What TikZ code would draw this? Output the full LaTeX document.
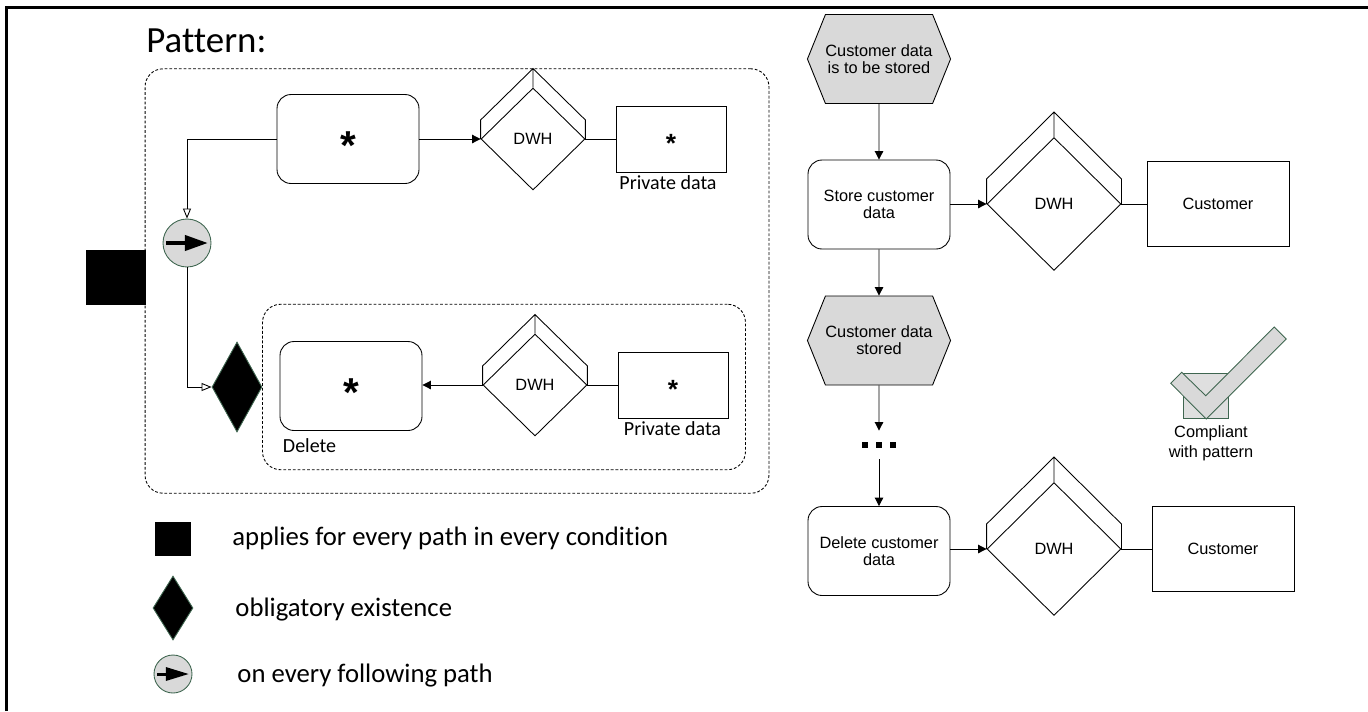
\documentclass[tikz,border=0pt]{standalone}
\usepackage{fontspec}
\setmainfont{Liberation Sans}
\newfontfamily\calibri[Ligatures=NoCommon]{Carlito}
\usetikzlibrary{positioning}
\usetikzlibrary{calc}
\usetikzlibrary{arrows.meta}
\usetikzlibrary{shapes.geometric}
\usetikzlibrary{shapes.symbols}

\definecolor{evfill}{HTML}{D9D9D9}
\definecolor{evline}{HTML}{3F6650}

\newcommand{\wild}[1]{\smash{\fontsize{#1}{#1}\selectfont\bfseries\raisebox{-.5em}{*}}}
\newcommand{\dwhback}[2]{\draw (#1.west) -- ++(0,-#2) -- ($(#1.north)+(0,-#2)$) -- ($(#1.east)+(0,-#2)$) -- (#1.east) (#1.north) -- ++(0,-#2);}
\newcommand{\evarrow}[4]{\draw[line width=#4,-{Triangle[length=#2,width=#3]}] ([xshift=0.07cm]#1.west) -- ([xshift=-0.07cm]#1.east);}

\begin{document}
\begin{tikzpicture}[x=0.02cm,y=-0.02cm,
        line width=0.5pt,
        bigtask/.style={rectangle,draw=black,rounded corners=0.28cm,minimum width=2.84cm,minimum height=1.78cm,align=center},
        rightdata/.style={rectangle,draw=black,minimum width=2.84cm,minimum height=1.7cm},
        leftdata/.style={rectangle,draw=black,minimum width=2.2cm,minimum height=1.32cm},
        smalldwh/.style={diamond,draw=black,aspect=1,inner sep=0pt,minimum width=2.08cm,minimum height=2.04cm},
        bigdwh/.style={diamond,draw=black,aspect=1,inner sep=0pt,minimum width=2.68cm,minimum height=2.66cm},
        hexevent/.style={signal,signal to=east and west,signal pointer angle=136,draw=black,fill=evfill,inner sep=0pt,minimum width=2.7cm,minimum height=1.78cm,align=center},
        scopebox/.style={rectangle,draw=black,dash pattern=on 1.6pt off 1.1pt,rounded corners=0.36cm},
        everyev/.style={circle,draw=evline,fill=evfill,inner sep=0pt},
        mustdia/.style={diamond,draw=evline,fill=black,inner sep=0pt,aspect=0.55},
        dot/.style={rectangle,fill=black,inner sep=0pt,minimum size=0.12cm},
        arr/.style={-{Triangle[length=0.17cm,width=0.17cm]}},
        openarr/.style={-{Triangle[open,fill=white,length=0.2cm,width=0.16cm]}},
        calib/.style={font=\calibri\fontsize{11.4}{13}\selectfont,inner sep=0pt},
        legend/.style={font=\calibri\fontsize{15.2}{18}\selectfont,anchor=west,inner sep=0pt}
        ]
        \fontsize{9.3}{9.7}\selectfont
        \useasboundingbox (0,0) rectangle (1368,711);
        \draw[line width=1.2pt] (6.5,711) -- (6.5,7.5) -- (1368,7.5);
        \node (title) [anchor=base west,inner sep=0pt,font=\calibri\fontsize{21}{24}\selectfont] at (146,52) {Pattern:};

        % pattern
        \node (outer) [scopebox,minimum width=12.48cm,minimum height=8.49cm] at (457,281) {};
        \node (inner) [scopebox,minimum width=9.66cm,minimum height=3.31cm] at (504,387) {};
        \node (all) [rectangle,fill=black,minimum width=1.2cm,minimum height=1.1cm] at (116,277.5) {};
        \node (task1) [bigtask] at (348,139) {\wild{23}};
        \node (dwh1) [smalldwh] at (533,139) {DWH};
        \dwhback{dwh1}{19}
        \node (data1) [leftdata] at (671,139) {\wild{15}};
        \node (lab1) [calib] at (668,183) {Private data};
        \node (every) [everyev,minimum size=0.96cm] at (187,243) {};
        \evarrow{every}{0.46cm}{0.3cm}{2.2pt}
        \node (must) [mustdia,minimum width=1cm,minimum height=1.8cm] at (237,387) {};
        \node (task2) [bigtask] at (351,386) {\wild{23}};
        \node (lab2) [calib,anchor=west] at (282.5,446) {Delete};
        \node (dwh2) [smalldwh] at (535,385) {DWH};
        \dwhback{dwh2}{19}
        \node (data2) [leftdata] at (673,385) {\wild{15}};
        \node (lab3) [calib] at (672.5,429) {Private data};
        \draw[arr] (task1) -- (dwh1);
        \draw (dwh1) -- (data1);
        \draw[openarr] (task1) -| (every);
        \draw[openarr] (every) |- (must);
        \draw[arr] (dwh2.west) -- (task2.east |- dwh2.west);
        \draw (dwh2) -- (data2);

        % legend
        \node (leg1) [rectangle,fill=black,minimum width=0.71cm,minimum height=0.68cm] at (173,539) {};
        \node (txt1) [legend] at (232,538) {applies for every path in every condition};
        \node (leg2) [mustdia,minimum width=0.8cm,minimum height=1.28cm] at (173,608) {};
        \node (txt2) [legend] at (235,610) {obligatory existence};
        \node (leg3) [everyev,minimum size=0.76cm] at (173,674) {};
        \evarrow{leg3}{0.46cm}{0.26cm}{1.7pt}
        \node (txt3) [legend] at (237,676) {on every following path};

        % example process
        \node (ev1) [hexevent] at (879,59) {Customer data\\is to be stored};
        \node (store) [bigtask] at (879,204.5) {Store customer\\data};
        \node (dwh3) [bigdwh] at (1054,204) {DWH};
        \dwhback{dwh3}{25}
        \node (cust1) [rightdata] at (1218,204) {Customer};
        \node (ev2) [hexevent] at (879,340.5) {Customer data\\stored};
        \node (dot1) [dot] at (865,445) {};
        \node (dot2) [dot] at (879,445) {};
        \node (dot3) [dot] at (893,445) {};
        \node (del) [bigtask] at (879,551) {Delete customer\\data};
        \node (dwh4) [bigdwh] at (1054,549) {DWH};
        \dwhback{dwh4}{25}
        \node (cust2) [rightdata] at (1223,549) {Customer};
        \draw[arr] (ev1) -- (store);
        \draw[arr] (store.east |- dwh3) -- (dwh3);
        \draw (dwh3) -- (cust1);
        \draw[arr] (store) -- (ev2);
        \draw[arr] (ev2) -- ([yshift=0.22cm]dot2.north);
        \draw[arr] ([yshift=-0.22cm]dot2.south) -- (del);
        \draw[arr] (del.east |- dwh4) -- (dwh4);
        \draw (dwh4) -- (cust2);

        % compliant mark
        \node (tick) [rectangle,draw=evline,fill=evfill!85!white,minimum width=0.91cm,minimum height=0.9cm] at (1206,396) {};
        \draw[draw=evline,fill=evfill] (1181.7,372.3) -- (1205.7,395.7) -- (1274.3,327) -- (1286.3,339) -- (1206.3,419) -- (1170.7,383.3) -- cycle;
        \node (ok) [align=center,inner sep=0pt] at (1211,443) {Compliant\\[1.7pt]with pattern};
    \end{tikzpicture}
\end{document}
